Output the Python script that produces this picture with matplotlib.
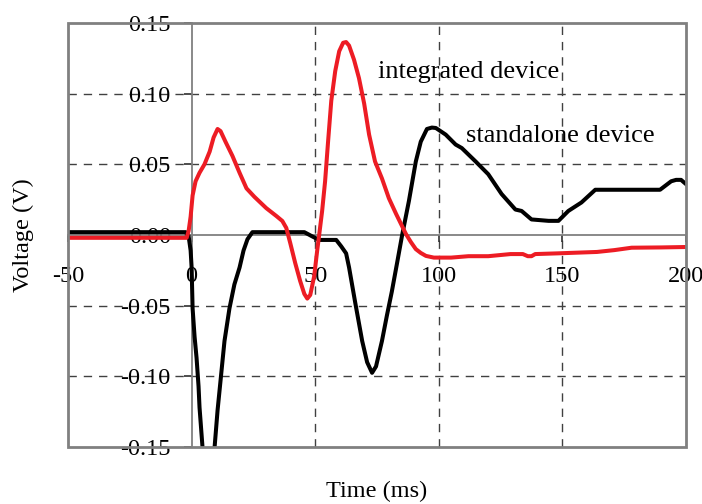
import matplotlib
matplotlib.use("Agg")
import matplotlib.pyplot as plt
from matplotlib.patches import Rectangle

plt.rcParams["font.family"] = ["Liberation Serif", "DejaVu Serif"]

# Time (ms) and voltage (V) for the integrated device
t_integrated = [-50, -10, -2.0, -1.2, -0.4, 0.4, 1.6, 3.2, 5.2, 7.3, 8.9, 10.5, 11.7, 13.7,
                16.5, 19.4, 22.2, 25.4, 30.2, 34.3, 36.7, 38.3, 39.9, 41.9, 43.9, 45.6,
                46.8, 48.0, 49.6, 50.8, 51.6, 52.8, 54.0, 55.2, 56.5, 58.1, 59.7, 61.3,
                62.5, 63.7, 65.7, 67.7, 69.8, 71.8, 74.2, 77.0, 79.8, 82.7, 86.7, 88.7,
                90.7, 92.7, 94.8, 98, 105, 112, 120, 129, 134, 136, 137.5, 139, 148, 156,
                164, 171, 178, 190, 200]
v_integrated = [-0.002, -0.002, -0.002, 0.003, 0.013, 0.028, 0.038, 0.044, 0.050, 0.059,
                0.069, 0.075, 0.0735, 0.066, 0.056, 0.044, 0.033, 0.027, 0.019, 0.0134,
                0.0099, 0.005, -0.0057, -0.0198, -0.0325, -0.0417, -0.045, -0.0424, -0.029,
                -0.011, 0.0, 0.017, 0.038, 0.066, 0.095, 0.116, 0.130, 0.136, 0.1365,
                0.134, 0.124, 0.111, 0.093, 0.071, 0.052, 0.040, 0.026, 0.015, 0.0007,
                -0.005, -0.010, -0.0127, -0.0148, -0.016, -0.016, -0.015, -0.015, -0.0135,
                -0.0135, -0.015, -0.015, -0.0135, -0.013, -0.0125, -0.012, -0.0107, -0.009,
                -0.0088, -0.0085]

# Time (ms) and voltage (V) for the standalone device
t_standalone = [-50, -10, -2.4, -1.2, -0.4, 0, 0.4, 1.2, 2.0, 2.8, 3.2, 4.4, 6.9, 9.3, 10.5,
                11.3, 13.3, 15.3, 17.3, 19.4, 21.0, 22.6, 24.6, 35, 45.6, 48.8, 51.6, 58.5,
                60.5, 62.5, 63.7, 66.1, 69.0, 71.0, 73.0, 74.6, 77.0, 79.0, 81.0, 83.1,
                85.1, 87.9, 90.7, 92.7, 95.2, 97.2, 98.8, 102.8, 106.8, 109.3, 114.9, 120,
                125.4, 131, 133.5, 137.5, 144.4, 148.4, 152.4, 157.7, 163.3, 175, 189.5,
                194, 196, 198, 200]
v_standalone = [0.002, 0.002, 0.002, -0.001, -0.011, -0.023, -0.052, -0.072, -0.087, -0.107,
                -0.122, -0.150, -0.170, -0.150, -0.124, -0.110, -0.075, -0.052, -0.035,
                -0.023, -0.011, -0.003, 0.002, 0.002, 0.002, -0.001, -0.0035, -0.0035,
                -0.008, -0.013, -0.023, -0.047, -0.075, -0.090, -0.0975, -0.093, -0.075,
                -0.057, -0.040, -0.020, -0.0007, 0.024, 0.052, 0.066, 0.075, 0.076, 0.0757,
                0.071, 0.064, 0.0615, 0.052, 0.043, 0.029, 0.018, 0.017, 0.011, 0.010,
                0.010, 0.017, 0.023, 0.032, 0.032, 0.032, 0.038, 0.039, 0.039, 0.036]

x_ticks = [-50, 0, 50, 100, 150, 200]
y_ticks = [-0.15, -0.10, -0.05, 0.00, 0.05, 0.10, 0.15]
x_grid = [50, 100, 150]
y_grid = [-0.10, -0.05, 0.05, 0.10]

fig = plt.figure(figsize=(7.02, 5.04), dpi=100)
ax = fig.add_axes([0.0969, 0.1131, 0.8803, 0.8413])

frame_gray = "#808080"
red = "#ed1c24"

ax.set_xlim(-50, 200)
ax.set_ylim(-0.15, 0.15)

# dashed grid
for gx in x_grid:
    ax.axvline(gx, color="#404040", lw=1.0, ls=(0, (6, 5)), zorder=1)
for gy in y_grid:
    ax.axhline(gy, color="#404040", lw=1.0, ls=(0, (6, 5)), zorder=1)

ax.plot(t_standalone, v_standalone, color="black", lw=2.9, zorder=3,
        solid_joinstyle="round")
ax.plot(t_integrated, v_integrated, color=red, lw=2.9, zorder=4,
        solid_joinstyle="round")

# axes crossing at the origin
ax.spines["left"].set_position(("data", 0))
ax.spines["bottom"].set_position(("data", 0))
ax.spines["right"].set_visible(False)
ax.spines["top"].set_visible(False)
for s in ("left", "bottom"):
    ax.spines[s].set_color(frame_gray)
    ax.spines[s].set_linewidth(1.3)
    ax.spines[s].set_zorder(2)

# plot-area border
ax.add_patch(Rectangle((0, 0), 1, 1, transform=ax.transAxes, fill=False,
                       edgecolor=frame_gray, lw=2.0, zorder=5, clip_on=False))

ax.set_xticks(x_ticks)
ax.set_xticklabels([f"{v:d}" for v in x_ticks])
ax.set_yticks(y_ticks)
ax.set_yticklabels([f"{v:.2f}" for v in y_ticks])
ax.tick_params(axis="y", direction="out", length=6, width=1.2, color="#303030",
               labelsize=17.5, pad=9)
ax.tick_params(axis="x", direction="out", length=5, width=1.2, color="#303030",
               labelsize=17.5, pad=17)
for lab in ax.get_yticklabels():
    lab.set_verticalalignment("center_baseline")

ax.text(112, 0.1155, "integrated device", fontsize=19, ha="center", va="center",
        zorder=6)
ax.text(149, 0.070, "standalone device", fontsize=19, ha="center", va="center",
        zorder=6)

fig.text(0.537, 0.024, "Time (ms)", fontsize=17.5, ha="center", va="center")
fig.text(0.033, 0.534, "Voltage (V)", fontsize=17.5, ha="center", va="center",
         rotation=90)

fig.savefig("out.png", dpi=100)
